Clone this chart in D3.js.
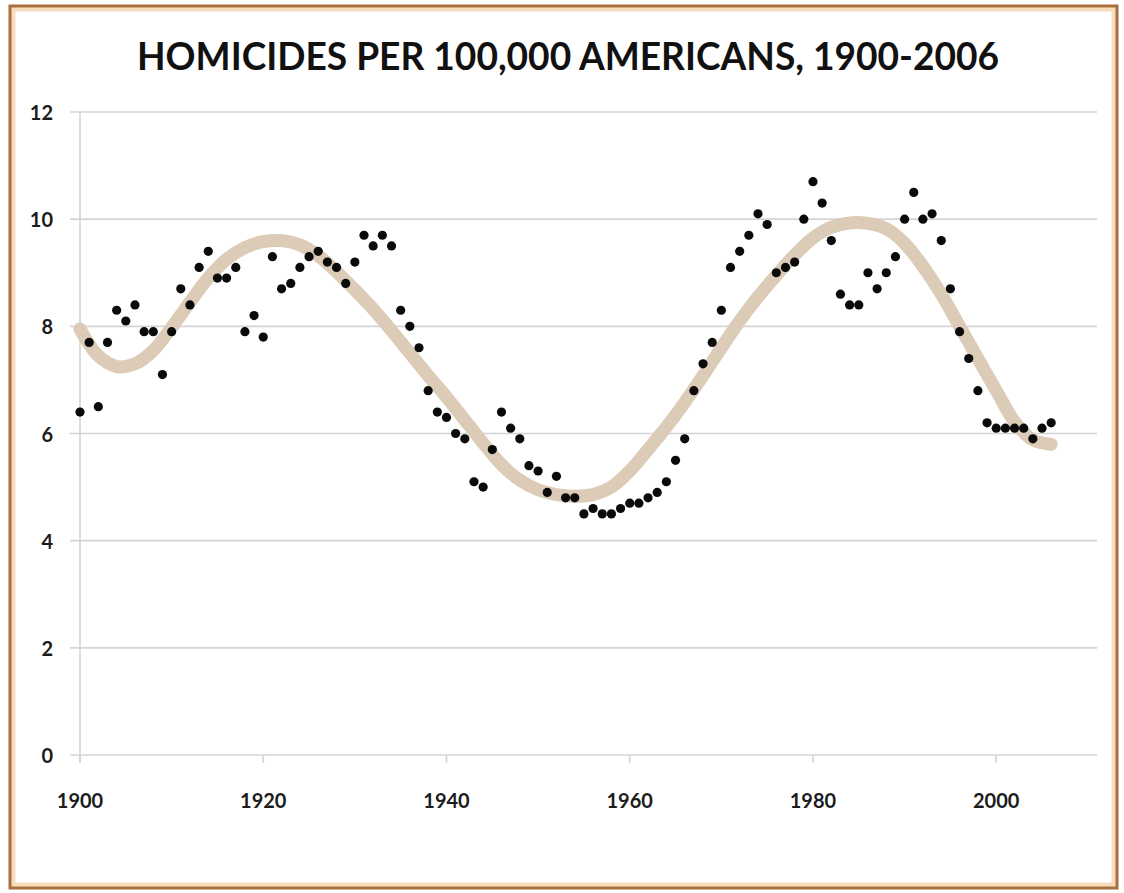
<!DOCTYPE html>
<html>
<head>
<meta charset="utf-8">
<script src="https://cdn.jsdelivr.net/npm/d3@7"></script>
<style>
  html, body { margin: 0; padding: 0; background: #ffffff; }
  svg { display: block; }
</style>
</head>
<body>
<svg id="chart" width="1124" height="893"></svg>
<script>
const titleText = "HOMICIDES PER 100,000 AMERICANS, 1900-2006";

const years = d3.range(1900, 2007);
const rates = [
  6.4, 7.7, 6.5, 7.7, 8.3, 8.1, 8.4, 7.9, 7.9, 7.1,
  7.9, 8.7, 8.4, 9.1, 9.4, 8.9, 8.9, 9.1, 7.9, 8.2,
  7.8, 9.3, 8.7, 8.8, 9.1, 9.3, 9.4, 9.2, 9.1, 8.8,
  9.2, 9.7, 9.5, 9.7, 9.5, 8.3, 8.0, 7.6, 6.8, 6.4,
  6.3, 6.0, 5.9, 5.1, 5.0, 5.7, 6.4, 6.1, 5.9, 5.4,
  5.3, 4.9, 5.2, 4.8, 4.8, 4.5, 4.6, 4.5, 4.5, 4.6,
  4.7, 4.7, 4.8, 4.9, 5.1, 5.5, 5.9, 6.8, 7.3, 7.7,
  8.3, 9.1, 9.4, 9.7, 10.1, 9.9, 9.0, 9.1, 9.2, 10.0,
  10.7, 10.3, 9.6, 8.6, 8.4, 8.4, 9.0, 8.7, 9.0, 9.3,
  10.0, 10.5, 10.0, 10.1, 9.6, 8.7, 7.9, 7.4, 6.8, 6.2,
  6.1, 6.1, 6.1, 6.1, 5.9, 6.1, 6.2
];

// trend line, every two years
const trendYears = d3.range(1900, 2007, 2);
const trendValues = [
  7.95, 7.45, 7.25, 7.3, 7.55, 7.98, 8.45, 8.9, 9.25, 9.47,
  9.58, 9.6, 9.52, 9.32, 9.02, 8.68, 8.32, 7.92, 7.5, 7.08,
  6.68, 6.25, 5.82, 5.42, 5.13, 4.95, 4.86, 4.83, 4.86, 5.0,
  5.3, 5.7, 6.12, 6.58, 7.08, 7.6, 8.1, 8.55, 8.95, 9.33,
  9.65, 9.85, 9.93, 9.92, 9.82, 9.55, 9.12, 8.6, 8.0, 7.4,
  6.8, 6.22, 5.88, 5.8
];

const xTicks = [1900, 1920, 1940, 1960, 1980, 2000];
const yTicks = [0, 2, 4, 6, 8, 10, 12];

const svg = d3.select("#chart");
const FONT = "Lato, 'Open Sans', 'DejaVu Sans', sans-serif";

// frame
svg.append("rect").attr("x", 0).attr("y", 0).attr("width", 1124).attr("height", 893).attr("fill", "#ffffff");
svg.append("rect").attr("x", 13).attr("y", 9).attr("width", 1101).attr("height", 876)
  .attr("fill", "none").attr("stroke", "#f8dcbc").attr("stroke-width", 5);
svg.append("rect").attr("x", 10).attr("y", 6).attr("width", 1107).attr("height", 882)
  .attr("fill", "none").attr("stroke", "#a8703e").attr("stroke-width", 3);

const x = d3.scaleLinear().domain([1900, 2011]).range([80, 1097]);
const y = d3.scaleLinear().domain([0, 12]).range([755, 112]);

// gridlines
svg.append("g").selectAll("line").data(yTicks).join("line")
  .attr("x1", 70).attr("x2", x.range()[1])
  .attr("y1", d => y(d)).attr("y2", d => y(d))
  .attr("stroke", "#d4d4d4").attr("stroke-width", 1.6);

// y axis line
svg.append("line").attr("x1", 80).attr("x2", 80).attr("y1", y(12)).attr("y2", y(0) + 8)
  .attr("stroke", "#d4d4d4").attr("stroke-width", 1.6);

// x ticks
svg.append("g").selectAll("line").data(xTicks).join("line")
  .attr("x1", d => x(d)).attr("x2", d => x(d))
  .attr("y1", y(0)).attr("y2", y(0) + 8)
  .attr("stroke", "#d4d4d4").attr("stroke-width", 1.6);

// y labels
svg.append("g").selectAll("text").data(yTicks).join("text")
  .attr("x", 53).attr("y", d => y(d))
  .attr("text-anchor", "end").attr("dominant-baseline", "central")
  .attr("font-family", FONT).attr("font-weight", 700).attr("font-size", 20)
  .attr("fill", "#1c1c1c").text(d => d);

// x labels
svg.append("g").selectAll("text").data(xTicks).join("text")
  .attr("x", d => x(d)).attr("y", 800)
  .attr("text-anchor", "middle").attr("dominant-baseline", "central")
  .attr("font-family", FONT).attr("font-weight", 700).attr("font-size", 20)
  .attr("fill", "#1c1c1c").text(d => d);

// trend
const trend = trendYears.map((yr, i) => ({yr, v: trendValues[i]}));
svg.append("path").datum(trend)
  .attr("d", d3.line().x(d => x(d.yr)).y(d => y(d.v)).curve(d3.curveCatmullRom))
  .attr("fill", "none").attr("stroke", "#dccbb6").attr("stroke-width", 13)
  .attr("stroke-linecap", "round").attr("stroke-linejoin", "round");

// points
const pts = years.map((yr, i) => ({yr, v: rates[i]}));
svg.append("g").selectAll("circle").data(pts).join("circle")
  .attr("cx", d => x(d.yr)).attr("cy", d => y(d.v)).attr("r", 4.6)
  .attr("fill", "#0a0a0a");

// title
svg.append("text").attr("x", 568).attr("y", 55)
  .attr("text-anchor", "middle").attr("dominant-baseline", "central")
  .attr("font-family", FONT).attr("font-weight", 700).attr("font-size", 38)
  .attr("textLength", 862).attr("lengthAdjust", "spacingAndGlyphs")
  .attr("fill", "#111111").text(titleText);
</script>
</body>
</html>
